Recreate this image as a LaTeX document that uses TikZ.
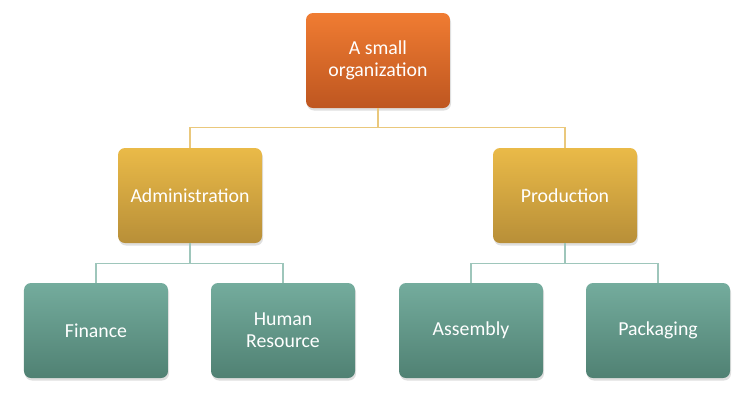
\documentclass[tikz,border=0pt]{standalone}
\usepackage{fontspec}
\setmainfont{Carlito}
\definecolor{orgtop}{RGB}{240, 124, 50}
\definecolor{orgbot}{RGB}{190, 86, 32}
\definecolor{goldtop}{RGB}{234, 186, 72}
\definecolor{goldbot}{RGB}{184, 143, 56}
\definecolor{tealtop}{RGB}{116, 172, 157}
\definecolor{tealbot}{RGB}{80, 129, 115}
\definecolor{goldline}{RGB}{234, 200, 124}
\definecolor{tealline}{RGB}{158, 198, 187}
\usetikzlibrary{positioning}
\usetikzlibrary{shadows}
\tikzset{
  box/.style={
    rounded corners=7bp, minimum width=144bp, minimum height=95bp,
    align=center, text=white, inner sep=0,
    font=\fontsize{19.8bp}{22bp}\selectfont,
    drop shadow={opacity=0.25, shadow xshift=1bp, shadow yshift=-2.5bp}
  },
  orgbox/.style={box, top color=orgtop, bottom color=orgbot},
  deptbox/.style={box, top color=goldtop, bottom color=goldbot},
  unitbox/.style={box, top color=tealtop, bottom color=tealbot},
  goldlink/.style={draw=goldline, line width=1.3bp},
  teallink/.style={draw=tealline, line width=1.3bp}
}

\begin{document}
\begin{tikzpicture}[x=1bp, y=-1bp]
  \useasboundingbox (0,0) rectangle (756,403);
  \node[orgbox] (org) at (378,60.5) {A small\\organization};
  \node[deptbox] (admin) at (190,195.5) {Administration};
  \node[deptbox] (prod) at (565,195.5) {Production};
  \node[unitbox] (fin) at (96,330.5) {Finance};
  \node[unitbox] (hr) at (283,330.5) {Human\\Resource};
  \node[unitbox] (asm) at (471,330.5) {Assembly};
  \node[unitbox] (pack) at (658,330.5) {Packaging};
  % connectors
  \draw[goldlink] (org.south) -- ++(0,19.5) -| (admin.north);
  \draw[goldlink] (org.south) -- ++(0,19.5) -| (prod.north);
  \draw[teallink] (admin.south) -- ++(0,20) -| (fin.north);
  \draw[teallink] (admin.south) -- ++(0,20) -| (hr.north);
  \draw[teallink] (prod.south) -- ++(0,20) -| (asm.north);
  \draw[teallink] (prod.south) -- ++(0,20) -| (pack.north);
\end{tikzpicture}
\end{document}
